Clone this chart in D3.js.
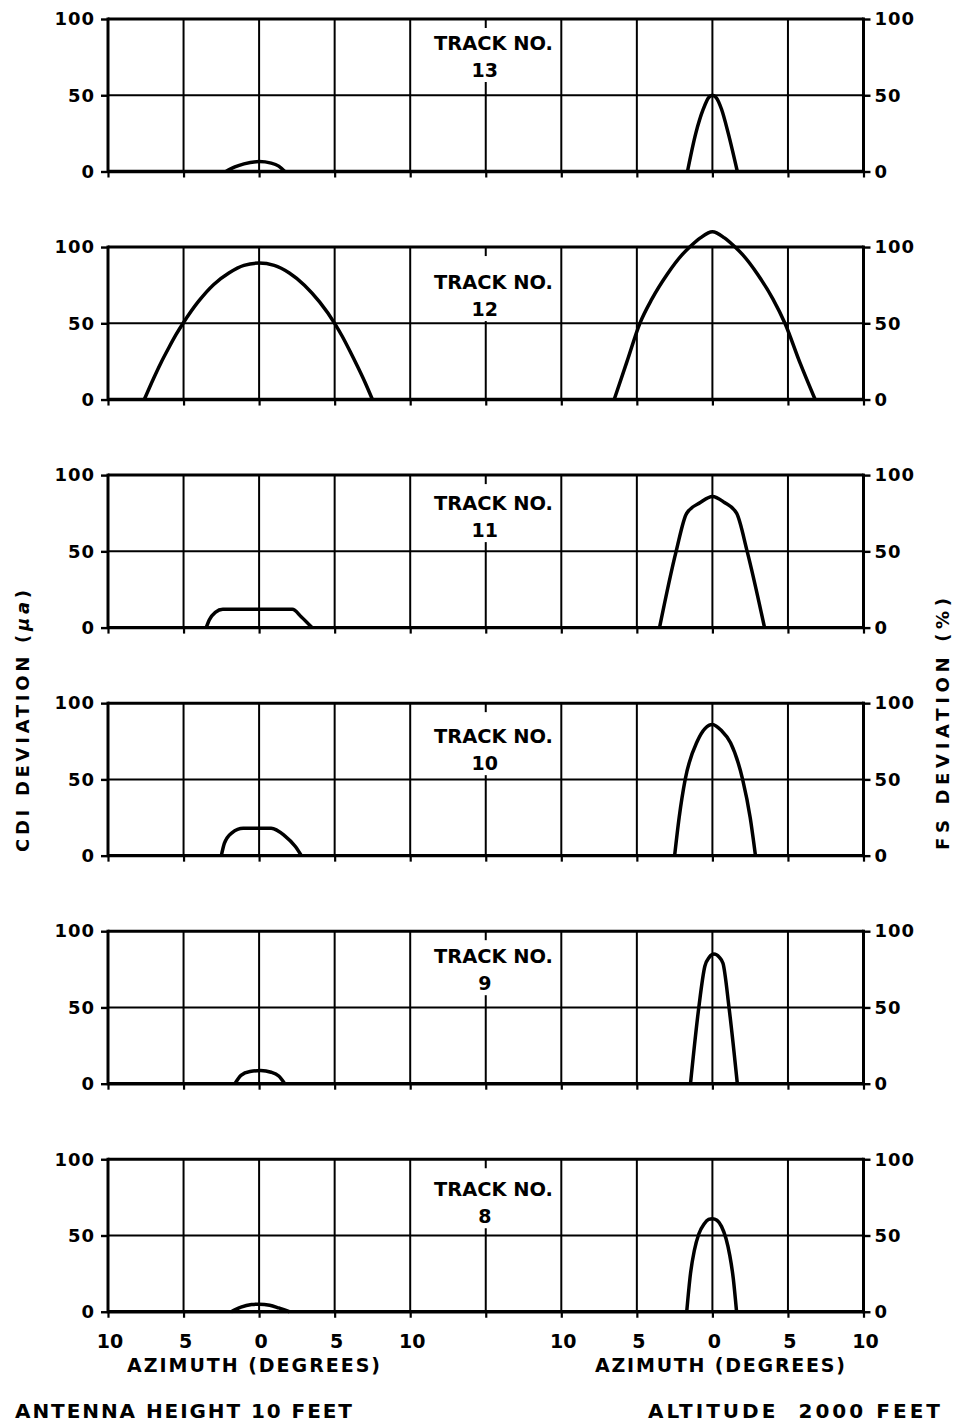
<!DOCTYPE html>
<html><head><meta charset="utf-8">
<script src="https://cdn.jsdelivr.net/npm/d3@7"></script>
<style>
body{margin:0;background:#fff}
svg{display:block}
text{font-family:"DejaVu Sans",Arial,sans-serif;font-weight:bold;fill:#000}
</style>
</head><body>
<svg id="chart" width="963" height="1424"></svg>
<script>
// ---------------- DATA ----------------
const trackNumbers = ["13", "12", "11", "10", "9", "8"];

// CDI deviation (microamps) vs azimuth (degrees), left plots
const cdi13 = [[-2.2,0],[-1.6,3],[-1,5],[0,6.5],[0.8,5.5],[1.3,3.5],[1.7,0]];
const cdi12 = [[-7.6,0],[-7,13.5],[-6.5,24],[-6,33.5],[-5.5,42.5],[-5,50.5],[-4,64.5],[-3,75.5],[-2,83],[-1,88],[0,89.5],[1,88],[2,83],[3,75],[4,64],[5,50],[5.5,41.5],[6,32],[6.5,22],[7,11.5],[7.5,0]];
const cdi11 = [[-3.5,0],[-3.3,5],[-2.9,10],[-2.4,12],[-1,12],[1,12],[2.2,12],[2.8,7],[3.5,0]];
const cdi10 = [[-2.5,0],[-2.3,8],[-1.8,15],[-1.05,18],[0,18],[0.8,18],[1.7,13],[2.4,6],[2.8,0]];
const cdi9  = [[-1.6,0],[-1.2,5.5],[-0.6,8],[0.1,8.6],[0.8,7.5],[1.3,5],[1.7,0]];
const cdi8  = [[-1.85,0],[-1.2,3],[-0.5,4.7],[0,5],[0.7,4.3],[1.3,2.5],[2.0,0]];

// FS deviation (%) vs azimuth (degrees), right plots
const fs13 = [[-1.65,0],[-1.1,25],[-0.6,41],[-0.25,48.5],[0,50],[0.25,48.5],[0.6,41],[1.05,25],[1.65,0]];
const fs12 = [[-6.5,0],[-5.65,25],[-4.8,50],[-4,66],[-3,82],[-2,95],[-1.5,100],[-0.8,106],[0,110],[0.8,106],[1.5,100],[2,95],[3,82],[4,66],[4.8,50],[5.8,24],[6.8,0]];
const fs11 = [[-3.5,0],[-2.4,50],[-1.7,75],[-0.8,82],[0,86],[0.8,82],[1.6,75],[2.3,50],[3.45,0]];
const fs10 = [[-2.5,0],[-2.2,25],[-1.8,50],[-1.0,75],[0,86],[0.6,82],[1.2,74],[2.0,50],[2.5,25],[2.85,0]];
const fs9  = [[-1.45,0],[-0.9,50],[-0.5,77],[-0.2,83],[0.1,85],[0.45,83],[0.7,79],[1.1,50],[1.65,0]];
const fs8  = [[-1.7,0],[-1.45,25],[-1.2,40],[-0.9,51],[-0.55,57.5],[-0.25,60.5],[0,61],[0.3,60],[0.6,56],[0.9,48],[1.15,37],[1.38,22],[1.6,0]];

const cdiSeries = [cdi13, cdi12, cdi11, cdi10, cdi9, cdi8];
const fsSeries  = [fs13, fs12, fs11, fs10, fs9, fs8];

const yTickValues = [0, 50, 100];
const xTickValues = [-10, -5, 0, 5, 10];
const xGridValues = [-10, -5, 0, 5, 10];

// ---------------- LAYOUT ----------------
const svg = d3.select("#chart");
const panelTop0 = 19, panelPitch = 228.05, panelH = 152.5;
const labelOffsets = [31, 42, 35, 40, 32, 37]; // baseline of "TRACK NO." below panel top

const xL = d3.scaleLinear().domain([-10, 10]).range([108, 410.2]);
const xR = d3.scaleLinear().domain([-10, 10]).range([561.3, 863.5]);
const xMid = (xL(10) + xR(-10)) / 2;
const y = d3.scaleLinear().domain([0, 100]).range([panelH, 0]);

const curve = d3.curveMonotoneX;
const lineL = d3.line().x(d => xL(d[0])).y(d => y(d[1])).curve(curve);
const lineR = d3.line().x(d => xR(d[0])).y(d => y(d[1])).curve(curve);

const tickFont = g => g.selectAll(".tick text").attr("font-size", 18).attr("letter-spacing", 1)
  .attr("font-family", "DejaVu Sans, Arial, sans-serif").attr("font-weight", "bold");

trackNumbers.forEach((tn, i) => {
  const top = panelTop0 + i * panelPitch;
  const g = svg.append("g").attr("transform", `translate(0,${top})`);
  const last = i === trackNumbers.length - 1;

  // interior vertical grid lines
  const vx = [];
  xGridValues.forEach(v => { vx.push(xL(v)); });
  vx.push(xMid);
  xGridValues.forEach(v => { vx.push(xR(v)); });
  const inner = vx.filter(x => x > xL(-10) + 1 && x < xR(10) - 1);
  g.selectAll("line.vg").data(inner).join("line").attr("class", "vg")
    .attr("x1", d => d).attr("x2", d => d).attr("y1", y(100)).attr("y2", y(0))
    .attr("stroke", "#000").attr("stroke-width", 2);

  // horizontal 50 line
  g.append("line").attr("x1", xL(-10)).attr("x2", xR(10)).attr("y1", y(50)).attr("y2", y(50))
    .attr("stroke", "#000").attr("stroke-width", 2);

  // bottom tick marks at each vertical line
  const bt = d3.axisBottom(d3.scaleIdentity()).tickValues(vx).tickSize(6).tickFormat("");
  const bg = g.append("g").attr("transform", `translate(0,${y(0)})`).call(bt);
  bg.select(".domain").remove();
  bg.selectAll(".tick line").attr("stroke", "#000").attr("stroke-width", 2.2);

  // left axis
  const la = g.append("g").attr("transform", `translate(${xL(-10)},0)`)
    .call(d3.axisLeft(y).tickValues(yTickValues).tickSize(7).tickPadding(6));
  la.select(".domain").remove();
  la.selectAll(".tick line").attr("stroke", "#000").attr("stroke-width", 2.4);
  tickFont(la);

  // right axis
  const ra = g.append("g").attr("transform", `translate(${xR(10)},0)`)
    .call(d3.axisRight(y).tickValues(yTickValues).tickSize(7).tickPadding(4));
  ra.select(".domain").remove();
  ra.selectAll(".tick line").attr("stroke", "#000").attr("stroke-width", 2.4);
  tickFont(ra);

  // frame
  g.append("line").attr("x1", xL(-10)).attr("x2", xL(-10)).attr("y1", y(100) - 1.5).attr("y2", y(0) + 1.5)
    .attr("stroke", "#000").attr("stroke-width", 3);
  g.append("line").attr("x1", xR(10)).attr("x2", xR(10)).attr("y1", y(100) - 1.5).attr("y2", y(0) + 1.5)
    .attr("stroke", "#000").attr("stroke-width", 3);
  g.append("line").attr("x1", xL(-10)).attr("x2", xR(10)).attr("y1", y(100)).attr("y2", y(100))
    .attr("stroke", "#000").attr("stroke-width", 3);
  g.append("line").attr("x1", xL(-10)).attr("x2", xR(10)).attr("y1", y(0)).attr("y2", y(0))
    .attr("stroke", "#000").attr("stroke-width", 3.4);

  // track label with white backing (interrupts the middle grid line)
  const lb = labelOffsets[i];
  const rectBottom = Math.min(lb + 27 + 5, y(50) - 2);
  g.append("rect").attr("x", 428).attr("y", y(100) + 9).attr("width", 128).attr("height", rectBottom - (y(100) + 9))
    .attr("fill", "#fff");
  g.append("text").attr("x", 434).attr("y", lb).attr("font-size", 19)
    .attr("textLength", 119).attr("lengthAdjust", "spacingAndGlyphs").text("TRACK NO.");
  g.append("text").attr("x", xMid - 1).attr("y", lb + 27).attr("font-size", 19)
    .attr("text-anchor", "middle").text(tn);

  // curves
  g.append("path").attr("d", lineL(cdiSeries[i])).attr("fill", "none")
    .attr("stroke", "#000").attr("stroke-width", 3.5).attr("stroke-linejoin", "round");
  g.append("path").attr("d", lineR(fsSeries[i])).attr("fill", "none")
    .attr("stroke", "#000").attr("stroke-width", 3.5).attr("stroke-linejoin", "round");

  // bottom tick labels on last panel
  if (last) {
    const fmt = d => String(Math.abs(d));
    [xL, xR].forEach(sc => {
      g.selectAll(null).data(xTickValues).join("text")
        .attr("x", d => sc(d) + 2).attr("y", y(0) + 36).attr("font-size", 19)
        .attr("text-anchor", "middle").text(fmt);
    });
  }
});

// axis titles
svg.append("text").attr("x", 127).attr("y", 1372).attr("font-size", 19)
  .attr("textLength", 253).attr("lengthAdjust", "spacing").text("AZIMUTH (DEGREES)");
svg.append("text").attr("x", 595).attr("y", 1372).attr("font-size", 19)
  .attr("textLength", 250).attr("lengthAdjust", "spacing").text("AZIMUTH (DEGREES)");

svg.append("text").attr("x", 15).attr("y", 1418).attr("font-size", 20)
  .attr("textLength", 337).attr("lengthAdjust", "spacing").text("ANTENNA HEIGHT 10 FEET");
svg.append("text").attr("x", 648).attr("y", 1418).attr("font-size", 20)
  .attr("textLength", 292).attr("lengthAdjust", "spacing").attr("xml:space", "preserve").text("ALTITUDE  2000 FEET");

const lt = svg.append("text").attr("transform", "translate(29,721) rotate(-90)")
  .attr("text-anchor", "middle").attr("font-size", 18)
  .attr("textLength", 262).attr("lengthAdjust", "spacing");
lt.append("tspan").text("CDI DEVIATION (");
lt.append("tspan").attr("font-style", "italic").text("μa");
lt.append("tspan").text(")");

svg.append("text").attr("transform", "translate(949,724) rotate(-90)")
  .attr("text-anchor", "middle").attr("font-size", 18)
  .attr("textLength", 252).attr("lengthAdjust", "spacing").text("FS DEVIATION (%)");
</script>
</body></html>
